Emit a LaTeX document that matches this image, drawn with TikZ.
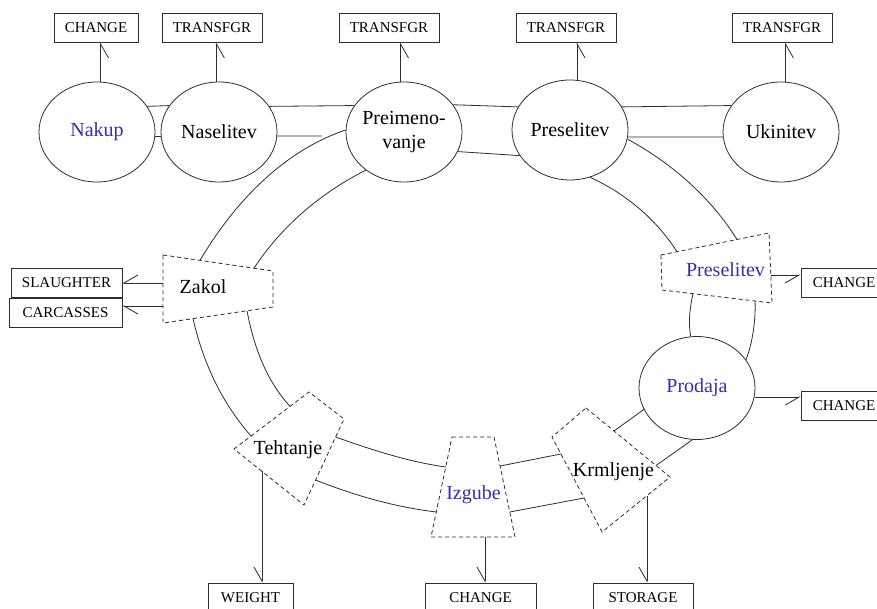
\documentclass[tikz,border=0pt]{standalone}
\usepackage{fontspec}
\setmainfont{Liberation Serif}
\usetikzlibrary{arrows.meta,shapes.geometric}
\definecolor{nblue}{RGB}{55,45,175}
\definecolor{lc}{RGB}{45,45,45}
\begin{document}
\begin{tikzpicture}[x=1pt,y=-1pt,
  ell/.style={draw=lc, ellipse, minimum width=116pt, minimum height=100pt, inner sep=0pt, line width=0.8pt, font=\fontsize{20}{24}\selectfont},
  box/.style={draw=lc, rectangle, minimum height=29pt, inner sep=0pt, line width=0.8pt, font=\fontsize{15}{18}\selectfont},
  lbl/.style={font=\fontsize{20}{24}\selectfont, anchor=base, inner sep=0pt},
  dsh/.style={draw=lc, dash pattern=on 4pt off 3pt, line width=0.8pt},
  con/.style={draw=lc, line width=0.8pt},
  harp/.style={con, -{Straight Barb[right,length=14pt,width=16pt]}},
  harpl/.style={con, -{Straight Barb[left,length=14pt,width=16pt]}}]
\useasboundingbox (0,0) rectangle (877,609);
\clip (0,0) rectangle (877,609);
\fill[white] (0,0) rectangle (877,609);

% top ellipses
\node[ell,text=nblue] (nakup) at (97,132) {Nakup};
\node[ell] (nasel) at (219,132) {Naselitev};
\node[ell] (preim) at (404,132) {\makebox[0pt]{\begin{tabular}{@{}c@{}}Preimeno-\\vanje\end{tabular}}};
\node[ell] (presel) at (570,130) {Preselitev};
\node[ell] (ukin) at (781,132) {Ukinitev};
\node[ell,text=nblue,minimum height=103pt] (prodaja) at (697,388) {Prodaja};

% boxes
\node[box,minimum width=84pt] (b1) at (96,27.5) {CHANGE};
\node[box,minimum width=100pt] (t1) at (212,27.5) {TRANSFGR};
\node[box,minimum width=100pt] (t2) at (389,27.5) {TRANSFGR};
\node[box,minimum width=100pt] (t3) at (566,27.5) {TRANSFGR};
\node[box,minimum width=100pt] (t4) at (782,27.5) {TRANSFGR};
\node[box,minimum width=111pt] (slau) at (66.5,282.5) {SLAUGHTER};
\node[box,minimum width=113pt] (carc) at (65.5,312.5) {CARCASSES};
\node[box,minimum width=86pt] (chr1) at (844,282.5) {CHANGE};
\node[box,minimum width=86pt] (chr2) at (844,405.5) {CHANGE};
\node[box,minimum width=85pt] (weight) at (250.5,597.5) {WEIGHT};
\node[box,minimum width=111pt] (chb) at (480.5,597.5) {CHANGE};
\node[box,minimum width=100pt] (stor) at (643,597.5) {STORAGE};

% dashed shapes
\draw[dsh] (163,255) -- (273,271) -- (273,307) -- (163,323) -- cycle;
\node[lbl] (zakol) at (203,294) {Zakol};
\draw[dsh] (661,255) -- (769,233) -- (772,303) -- (662,290) -- cycle;
\node[lbl,text=nblue] (presel2) at (725.5,277) {Preselitev};
\draw[dsh] (234,449) -- (309,392) -- (344,419) -- (304,505) -- cycle;
\node[lbl] (teht) at (288,454) {Tehtanje};
\draw[dsh] (452,437) -- (494,437) -- (515,537) -- (431,537) -- cycle;
\node[lbl,text=nblue] (izg) at (473.5,499) {Izgube};
\draw[dsh] (586,408) -- (670,477) -- (602,532) -- (552,437) -- cycle;
\node[lbl] (krm) at (613.5,476.5) {Krmljenje};

% top chain
\draw[con] (nakup.27.7) -- (nasel.152.3);
\draw[con] (nakup.-4) -- (nasel.184);
\draw[con] (nasel.27.7) -- (preim.152.3);
\coordinate (j1) at (322,136);
\draw[con] (nasel.-4) -- (j1);
\draw[con] (preim.29.4) -- (presel.156.5);
\draw[con] (preim.-20.3) -- (presel.207.5);
\draw[con] (presel.24.8) -- (ukin.152.3);
\draw[con] (presel.-7) -- (ukin.185);

% ring
\coordinate (zt1) at (200,260.4);
\coordinate (zt2) at (254,268.2);
\coordinate (zb1) at (193,318.6);
\coordinate (zb2) at (247,310.8);
\draw[con] (preim.178) .. controls (282.5,151.5) and (234,203) .. (zt1);
\draw[con] (preim.225.7) .. controls (320.5,193) and (281.3,226.5) .. (zt2);
\coordinate (tl1) at (251,436);
\coordinate (tl2) at (290,406.4);
\coordinate (tr1) at (335.6,437);
\coordinate (tr2) at (315.6,480);
\draw[con] (zb1) .. controls (203.3,363.5) and (221.9,402.8) .. (tl1);
\draw[con] (zb2) .. controls (253.6,345.2) and (265.3,379.3) .. (tl2);
\coordinate (il1) at (445.7,467);
\coordinate (il2) at (436.25,512);
\coordinate (ir1) at (500.1,466);
\coordinate (ir2) at (509.75,512);
\draw[con] (tr1) .. controls (372.4,450.1) and (408.7,461.8) .. (il1);
\draw[con] (tr2) .. controls (355.5,495.9) and (395.6,507.1) .. (il2);
\coordinate (kl1) at (560.9,454);
\coordinate (kl2) at (584.1,498);
\coordinate (kr1) at (614,431);
\coordinate (kr2) at (656,465.5);
\draw[con] (ir1) -- (kl1);
\draw[con] (ir2) -- (kl2);
\draw[con] (kr1) -- (prodaja.202.9);
\draw[con] (kr2) -- (prodaja.265.3);
\coordinate (pb1) at (693,293.7);
\coordinate (pb2) at (755,301);
\coordinate (pt1) at (677,251.7);
\coordinate (pt2) at (737,239.5);
\draw[con] (prodaja.97.8) .. controls (688,322) and (690,307) .. (pb1);
\draw[con] (prodaja.30.3) .. controls (752,345) and (756,320) .. (pb2);
\draw[con] (presel.-67.4) .. controls (625.7,193.6) and (656.1,219.2) .. (pt1);
\draw[con] (presel.-9) .. controls (671.4,163) and (710.5,197) .. (pt2);

% arrows
\draw[harp] (nakup.86) -- (nakup.86 |- b1.south);
\draw[harp] (nasel.93.5) -- (nasel.93.5 |- t1.south);
\draw[harp] (preim.94.5) -- (preim.94.5 |- t2.south);
\draw[harp] (presel.82) -- (presel.82 |- t3.south);
\draw[harp] (ukin.85) -- (ukin.85 |- t4.south);
\coordinate (zs) at (163,283);
\coordinate (zc) at (163,306);
\draw[harp] (zs) -- (zs -| slau.east);
\draw[harpl] (zc) -- (zc -| carc.east);
\coordinate (pr) at (770.8,275);
\draw[harp] (pr) -- (pr -| chr1.west);
\draw[harp] (prodaja.-9.5) -- (prodaja.-9.5 -| chr2.west);
\coordinate (tehd) at (262,471.4);
\draw[harp] (tehd) -- (tehd |- weight.north);
\coordinate (izd) at (485,537);
\draw[harp] (izd) -- (izd |- chb.north);
\coordinate (krd) at (647,495.6);
\draw[harp] (krd) -- (krd |- stor.north);
\end{tikzpicture}
\end{document}
